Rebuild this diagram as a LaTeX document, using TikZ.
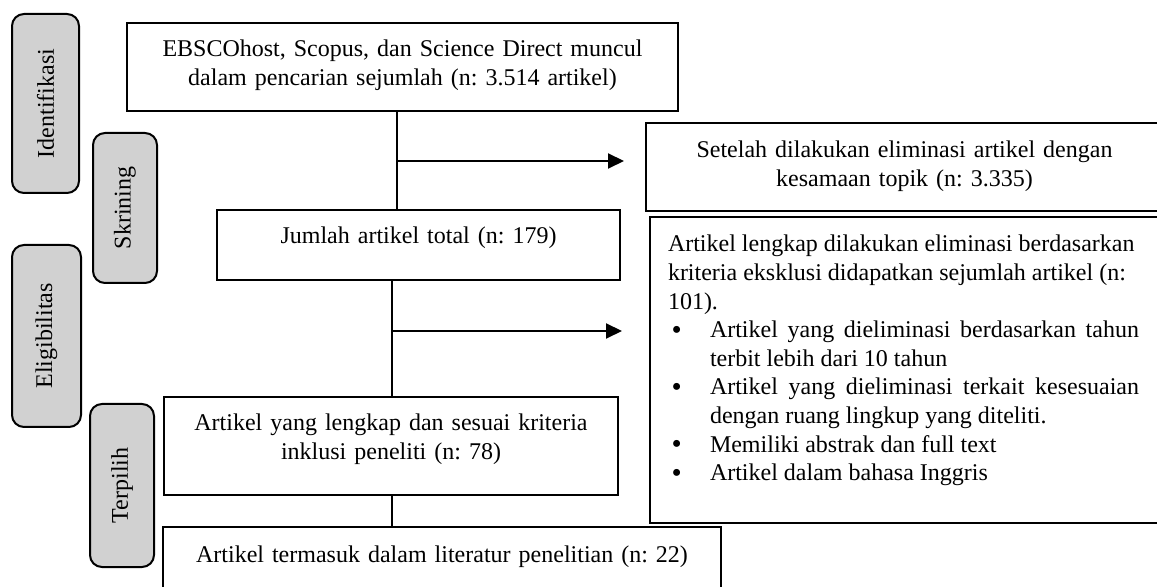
\documentclass[tikz,border=0pt]{standalone}
\usepackage{fontspec}
\setmainfont{Liberation Serif}
\usetikzlibrary{arrows.meta}
\newcommand{\critem}[1]{\par\noindent\hangindent=21pt\hangafter=1\makebox[21pt][l]{\hspace{1.8pt}\raisebox{-0.8pt}[0pt][0pt]{\fontsize{14.5}{14}\selectfont\textbullet}}#1}
\begin{document}
\begin{tikzpicture}[
    x=0.5pt, y=-0.5pt,
    every node/.style={font=\fontsize{12}{14.3}\selectfont\frenchspacing},
    box/.style={draw, line width=1pt, anchor=north, inner xsep=8pt, inner ysep=8pt, text height=9pt, align=center},
    openbox/.style={box, draw=none},
    pill/.style={draw, line width=1pt, rounded corners=6pt, fill=black!18, rotate=90, inner sep=0pt},
    link/.style={line width=1pt},
    flow/.style={-{Triangle[length=8pt,width=7.5pt]}, line width=1pt}
]
\useasboundingbox (0,0) rectangle (1157,587);
\clip (0,0) rectangle (1157,587);
\node[pill, minimum width=89.5pt, minimum height=33.5pt] (idf) at (45.5,103.5) {Identifikasi};
\node[pill, minimum width=75pt, minimum height=32pt] (skr) at (125,208) {Skrining};
\node[pill, minimum width=91pt, minimum height=34.5pt] (elg) at (46.5,336) {Eligibilitas};
\node[pill, minimum width=81.5pt, minimum height=32pt] (trp) at (122,485.5) {Terpilih};
\node[box, text width=259.5pt, text depth=19pt] (src) at (402.5,22) {EBSCOhost, Scopus, dan Science Direct muncul\\dalam pencarian sejumlah (n: 3.514 artikel)};
\node[box, text width=185.5pt, text depth=10pt] (total) at (418.5,209) {Jumlah artikel total (n: 179)};
\node[box, text width=211pt, text depth=24pt] (incl) at (391,396) {Artikel yang lengkap dan sesuai kriteria\\inklusi peneliti (n: 78)};
\node[openbox, text width=262pt, text depth=15pt] (final) at (442,527) {Artikel termasuk dalam literatur penelitian (n: 22)};
\node[openbox, text width=241.5pt, text depth=18pt] (elim1) at (904.5,123) {Setelah dilakukan eliminasi artikel dengan\\kesamaan topik (n: 3.335)};
\node[openbox, text width=235.5pt, text depth=127pt, inner xsep=8.5pt, align=justify] (elim2) at (903.5,217) {\hyphenpenalty=10000 Artikel lengkap dilakukan eliminasi berdasarkan\\kriteria eksklusi didapatkan sejumlah artikel (n:\\101).
\critem{Artikel yang dieliminasi berdasarkan tahun terbit lebih dari 10 tahun}
\critem{Artikel yang dieliminasi terkait kesesuaian dengan ruang lingkup yang diteliti.}
\critem{Memiliki abstrak dan full text}
\critem{Artikel dalam bahasa Inggris}};
\draw[link] ([xshift=40pt]elim1.north east) -- (elim1.north west) -- (elim1.south west) -- ([xshift=40pt]elim1.south east);
\draw[link] ([xshift=40pt]elim2.north east) -- (elim2.north west) -- (elim2.south west) -- ([xshift=40pt]elim2.south east);
\draw[link] ([yshift=-30pt]final.south west) -- (final.north west) -- (final.north east) -- ([yshift=-30pt]final.south east);
\coordinate (sp1) at (397,161);
\coordinate (sp2) at (392,331);
\draw[link] (src.south -| sp1) -- (total.north -| sp1);
\draw[flow, shorten >=11pt] (sp1) -- (sp1 -| elim1.west);
\draw[link] (total.south -| sp2) -- (incl.north -| sp2);
\draw[flow, shorten >=14pt] (sp2) -- (sp2 -| elim2.west);
\draw[link] (incl.south -| sp2) -- (final.north -| sp2);
\end{tikzpicture}
\end{document}
